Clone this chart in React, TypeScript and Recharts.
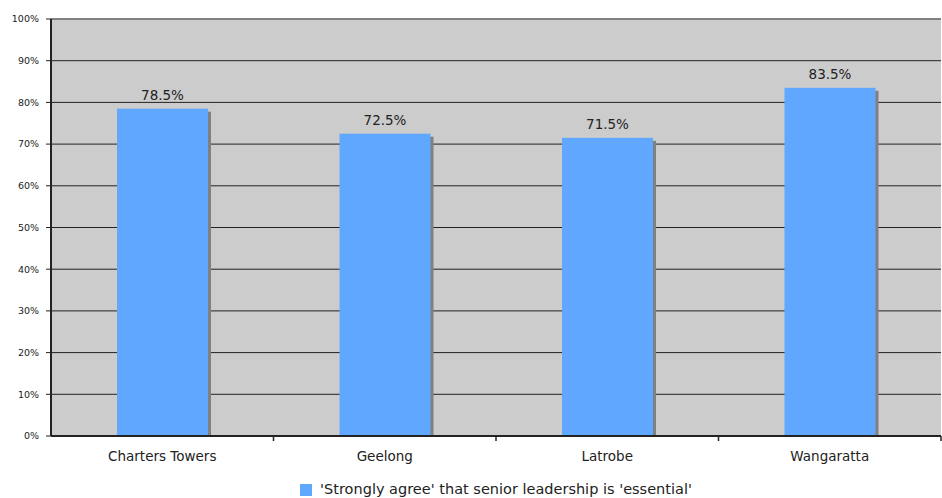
import React from 'react';
import { BarChart, Bar, XAxis, YAxis, CartesianGrid, Legend, LabelList } from 'recharts';

const regions = ['Charters Towers', 'Geelong', 'Latrobe', 'Wangaratta'];
const stronglyAgree = [78.5, 72.5, 71.5, 83.5];
const yTicks = [0, 10, 20, 30, 40, 50, 60, 70, 80, 90, 100];

const seriesName = "'Strongly agree' that senior leadership is 'essential'";

const data = regions.map((region, i) => ({ region, value: stronglyAgree[i] }));

const FONT = '"DejaVu Sans", Verdana, sans-serif';
const BAR_COLOR = '#60a8ff';

const ShadowBar = (props: any) => {
  const { x, y, width, height } = props;
  if (!height || height <= 0) return null;
  return (
    <g>
      <rect x={x + 3} y={y + 3} width={width} height={height - 3} fill="#808080" />
      <rect x={x} y={y} width={width} height={height} fill={BAR_COLOR} />
    </g>
  );
};

const CategoryTick = (props: any) => {
  const { x, y, payload } = props;
  const half = payload.offset || 0;
  return (
    <g>
      <line x1={x + half} y1={y - 8} x2={x + half} y2={y - 3} stroke="#222" strokeWidth={1.5} />
      <text x={x} y={y + 17} textAnchor="middle" fontSize={13.5} fill="#222" fontFamily={FONT}>
        {payload.value}
      </text>
    </g>
  );
};

// top grid line (100%) is grey, the rest near-black
const GridLine = (props: any) => {
  const { x1, x2, y1, y2 } = props;
  const isTop = y1 < 25;
  return (
    <line
      x1={x1}
      x2={x2}
      y1={y1}
      y2={y2}
      stroke={isTop ? '#808080' : '#222'}
      strokeWidth={isTop ? 2 : 1}
    />
  );
};

export default function App() {
  return (
    <div style={{ position: 'absolute', left: 0, top: 0, width: 942, height: 498, background: '#fff' }}>
      <BarChart
        width={942}
        height={498}
        data={data}
        margin={{ top: 19, right: 1, bottom: 0, left: 2 }}
        barSize={91}
      >
        <CartesianGrid vertical={false} horizontal={(p: any) => <GridLine key={p.key} {...p} />} fill="#cccccc" fillOpacity={1} />
        <XAxis
          dataKey="region"
          axisLine={{ stroke: '#222', strokeWidth: 2 }}
          tickLine={false}
          tick={<CategoryTick />}
          height={40}
          interval={0}
        />
        <YAxis
          width={49}
          domain={[0, 100]}
          ticks={yTicks}
          tickFormatter={(v: number) => `${v}%`}
          axisLine={{ stroke: '#222', strokeWidth: 2 }}
          tickLine={{ stroke: '#222' }}
          tickSize={5}
          tickMargin={7}
          tick={{ fontSize: 9.5, fill: '#222', fontFamily: FONT }}
          allowDataOverflow
        />
        <Legend
          verticalAlign="bottom"
          iconType="square"
          iconSize={12}
          height={22}
          wrapperStyle={{
            fontFamily: FONT,
            fontSize: 14.5,
            color: '#222',
            bottom: -5,
            left: 0,
            width: 942,
            paddingLeft: 60,
            boxSizing: 'border-box',
          }}
          formatter={(value: string) => <span style={{ color: '#222', marginLeft: 4 }}>{value}</span>}
        />
        <Bar dataKey="value" name={seriesName} fill={BAR_COLOR} shape={<ShadowBar />} isAnimationActive={false}>
          <LabelList
            dataKey="value"
            position="top"
            offset={9}
            formatter={(v: number) => `${v}%`}
            style={{ fontSize: 13.5, fill: '#222', fontFamily: FONT }}
          />
        </Bar>
      </BarChart>
    </div>
  );
}
